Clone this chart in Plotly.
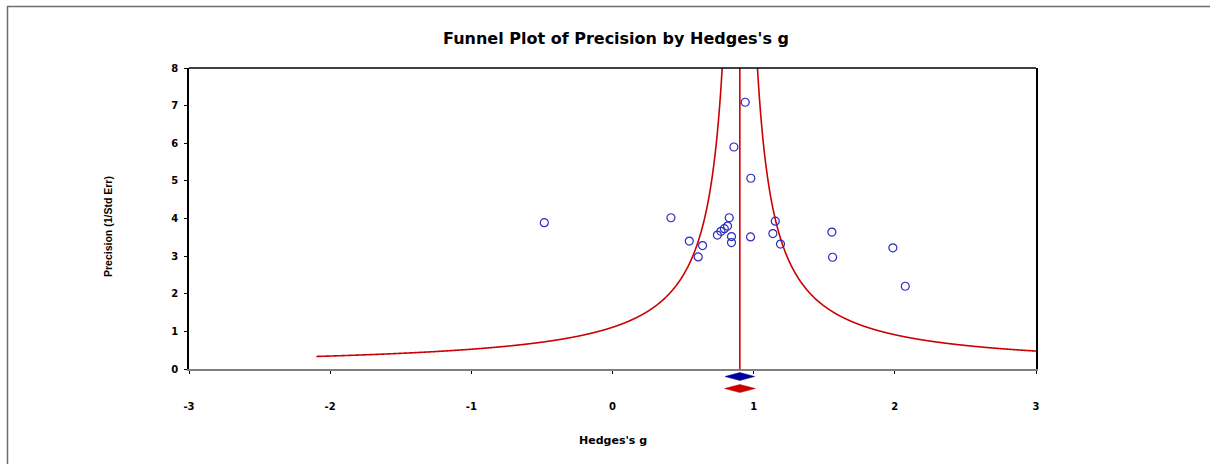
import numpy as np
import plotly.graph_objects as go

# ---------------- data ----------------
hedges_g = [0.940, 0.860, 0.980, -0.483, 0.414, 0.827, 1.153, 0.815, 0.792, 0.768, 0.743,
            0.843, 0.843, 0.978, 1.136, 1.190, 0.544, 0.638, 0.607, 1.554, 1.559, 1.986, 2.074]
precision = [7.09, 5.90, 5.07, 3.89, 4.02, 4.02, 3.93, 3.80, 3.73, 3.66, 3.56,
             3.52, 3.36, 3.51, 3.60, 3.32, 3.40, 3.28, 2.98, 3.64, 2.97, 3.22, 2.20]

summary_effect = 0.902          # combined Hedges's g (vertical line)
fixed_ci = [0.797, 1.007]        # blue diamond
random_ci = [0.794, 1.012]       # red diamond
funnel_scale = 1.0               # funnel limits: g = summary ± scale / precision
funnel_halfwidth_range = [0.11, 3.0]   # in Hedges's g units (prec = scale / halfwidth)

x_ticks = [-3, -2, -1, 0, 1, 2, 3]
x_tick_labels = ["-3", "-2", "-1", "0", "1", "2", "3"]
y_ticks = [0, 1, 2, 3, 4, 5, 6, 7, 8]
y_tick_labels = ["0", "1", "2", "3", "4", "5", "6", "7", "8"]

title_text = "Funnel Plot of Precision by Hedges's g"
x_title = "Hedges's g"
y_title = "Precision (1/Std Err)"

# ---------------- figure ----------------
W, H = 1210, 464
L, R, T, B = 189, 1036, 68, 369   # plot area in pixels


def px_to_paper_x(px):
    return (px - L) / (R - L)


def px_to_paper_y(py):
    return (B - py) / (B - T)


RED = "#cc0000"
BLUE_PT = "#2b2bbf"
BLUE_D = "#00009e"

fig = go.Figure()

hw_grid = np.linspace(funnel_halfwidth_range[0], funnel_halfwidth_range[1], 1500)
prec_grid = funnel_scale / hw_grid
for sign in (-1, 1):
    fig.add_trace(go.Scatter(
        x=summary_effect + sign * hw_grid, y=prec_grid,
        mode="lines", line=dict(color=RED, width=1.6, simplify=False),
        hoverinfo="skip", showlegend=False))

fig.add_trace(go.Scatter(
    x=[summary_effect, summary_effect], y=[y_ticks[0], y_ticks[-1]],
    mode="lines", line=dict(color=RED, width=1.6), showlegend=False))

fig.add_trace(go.Scatter(
    x=hedges_g, y=precision, mode="markers",
    marker=dict(symbol="circle-open", size=8, color=BLUE_PT, line=dict(width=1.2)),
    showlegend=False))


def diamond_path(lo, mid, hi, y_top, y_mid, y_bot):
    return f"M {lo},{y_mid} L {mid},{y_top} L {hi},{y_mid} L {mid},{y_bot} Z"


shapes = []
# summary diamonds below the axis
for ci, color, yc, hh in [(fixed_ci, BLUE_D, 376.5, 4.0), (random_ci, RED, 388.5, 4.0)]:
    shapes.append(dict(
        type="path", xref="x", yref="paper",
        path=diamond_path(ci[0], summary_effect, ci[1],
                          px_to_paper_y(yc - hh), px_to_paper_y(yc), px_to_paper_y(yc + hh)),
        fillcolor=color, line=dict(color=color, width=0.5), layer="above"))
# top frame line of plot (black)
shapes.append(dict(type="line", xref="paper", yref="paper", x0=0, x1=1, y0=1, y1=1,
                   line=dict(color="#000000", width=1.5)))
# outer chart frame (left and top, gray)
fx, fy = px_to_paper_x(7.5), px_to_paper_y(6.5)
shapes.append(dict(type="path", xref="paper", yref="paper",
                   path=f"M {fx},{px_to_paper_y(470)} L {fx},{fy} L {px_to_paper_x(1215)},{fy}",
                   line=dict(color="#6e6e6e", width=1.5)))

annotations = [
    dict(text=title_text, xref="paper", yref="paper", x=px_to_paper_x(616), y=px_to_paper_y(39),
         xanchor="center", yanchor="middle", showarrow=False,
         font=dict(family="DejaVu Sans", size=16, color="#000000", weight="bold")),
    dict(text=x_title, xref="paper", yref="paper", x=0.5, y=px_to_paper_y(440),
         xanchor="center", yanchor="middle", showarrow=False,
         font=dict(family="DejaVu Sans", size=11, color="#000000", weight="bold")),
    dict(text=y_title, xref="paper", yref="paper", x=px_to_paper_x(108), y=px_to_paper_y(227),
         xanchor="center", yanchor="middle", showarrow=False, textangle=-90,
         font=dict(family="Liberation Sans", size=10.5, color="#000000", weight="bold")),
]

fig.update_layout(
    width=W, height=H,
    margin=dict(l=L, r=W - R, t=T, b=H - B, pad=0),
    paper_bgcolor="white", plot_bgcolor="white",
    shapes=shapes, annotations=annotations,
    showlegend=False,
    xaxis=dict(range=[x_ticks[0], x_ticks[-1]], tickmode="array", tickvals=x_ticks,
               ticktext=x_tick_labels, ticks="outside", ticklen=3,
               tickcolor="#000000", showgrid=False, zeroline=False, showline=True,
               linecolor="#808080", linewidth=1.5, ticklabelstandoff=24,
               tickfont=dict(family="DejaVu Sans", size=10, color="#000000", weight="bold")),
    yaxis=dict(range=[y_ticks[0], y_ticks[-1]], tickmode="array", tickvals=y_ticks,
               ticktext=y_tick_labels, ticks="outside", ticklen=3,
               tickcolor="#000000", showgrid=False, zeroline=False, showline=True,
               linecolor="#000000", linewidth=1.5, mirror=True, ticklabelstandoff=4,
               tickfont=dict(family="DejaVu Sans", size=10, color="#000000", weight="bold")),
)

fig.write_html("out.html", config={"displayModeBar": False},
               post_script="document.body.style.margin='0px';")
